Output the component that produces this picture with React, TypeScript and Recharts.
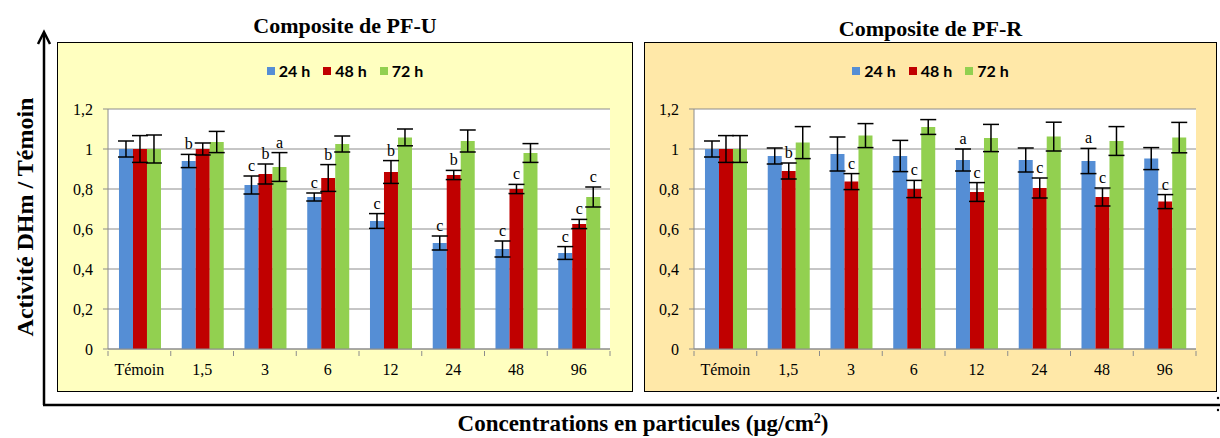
import React from "react";
import { BarChart, Bar, XAxis, YAxis, CartesianGrid, ErrorBar, LabelList } from "recharts";

const categories = ["Témoin", "1,5", "3", "6", "12", "24", "48", "96"];
const yTicks = [0, 0.2, 0.4, 0.6, 0.8, 1, 1.2];
const seriesNames = ["24 h", "48 h", "72 h"];
const seriesColors = ["#558ED5", "#C00000", "#92D050"];

// Composite de PF-U
const puMean24 = [1, 0.94, 0.82, 0.76, 0.64, 0.53, 0.5, 0.48];
const puErr24 = [0.04, 0.033, 0.045, 0.02, 0.037, 0.035, 0.04, 0.032];
const puMean48 = [1, 1.0, 0.875, 0.855, 0.885, 0.87, 0.8, 0.625];
const puErr48 = [0.067, 0.03, 0.05, 0.067, 0.057, 0.023, 0.023, 0.023];
const puMean72 = [1, 1.035, 0.91, 1.025, 1.058, 1.04, 0.98, 0.76];
const puErr72 = [0.07, 0.053, 0.072, 0.04, 0.042, 0.055, 0.047, 0.05];
const puLet24 = ["", "b", "c", "c", "c", "c", "c", "c"];
const puLet48 = ["", "", "b", "b", "b", "b", "c", "c"];
const puLet72 = ["", "", "a", "", "", "", "", "c"];

// Composite de PF-R
const prMean24 = [1, 0.965, 0.975, 0.965, 0.945, 0.945, 0.94, 0.952];
const prErr24 = [0.04, 0.04, 0.085, 0.078, 0.055, 0.06, 0.063, 0.055];
const prMean48 = [1, 0.89, 0.837, 0.8, 0.785, 0.805, 0.76, 0.737];
const prErr48 = [0.067, 0.04, 0.04, 0.043, 0.047, 0.05, 0.045, 0.035];
const prMean72 = [1, 1.032, 1.067, 1.11, 1.055, 1.062, 1.04, 1.057];
const prErr72 = [0.067, 0.08, 0.06, 0.037, 0.068, 0.072, 0.072, 0.076];
const prLet24 = ["", "", "", "", "a", "", "a", ""];
const prLet48 = ["", "b", "c", "c", "c", "c", "c", "c"];
const prLet72 = ["", "", "", "", "", "", "", ""];

const serif = "'Liberation Serif', 'Times New Roman', serif";
const sans = "Lato, 'Liberation Sans', sans-serif";

function letterLabel(means: number[], errs: number[]) {
  return (p: any) => {
    const vb = p.viewBox ?? {};
    const x = p.x ?? vb.x;
    const y = p.y ?? vb.y;
    const w = p.width ?? vb.width;
    const h = p.height ?? vb.height;
    const i = p.index;
    if (!p.value) return null;
    const errPx = (errs[i] * h) / means[i];
    return (
      <text x={x + w / 2} y={y - errPx - 5} textAnchor="middle" fontFamily={serif} fontSize={16} fill="#000">
        {p.value}
      </text>
    );
  };
}

function XTick({ x, y, payload, index, bw }: any) {
  return (
    <g>
      <line x1={x - bw / 2} x2={x - bw / 2} y1={y - 6} y2={y - 1} stroke="#8c8c8c" />
      {index === categories.length - 1 && (
        <line x1={x + bw / 2} x2={x + bw / 2} y1={y - 6} y2={y - 1} stroke="#8c8c8c" />
      )}
      <text x={x} y={y + 18} textAnchor="middle" fontFamily={serif} fontSize={16} fill="#000">
        {payload.value}
      </text>
    </g>
  );
}

function Panel({ left, top, width, height, bg, title, titleY, means, errs, letters, plotLeft, plotRight }: any) {
  const data = categories.map((c, i) => ({
    cat: c,
    m24: means[0][i], e24: errs[0][i], l24: letters[0][i],
    m48: means[1][i], e48: errs[1][i], l48: letters[1][i],
    m72: means[2][i], e72: errs[2][i], l72: letters[2][i],
  }));
  const bw = (plotRight - plotLeft) / categories.length;
  const keys = ["24", "48", "72"];
  return (
    <>
      <div style={{ position: "absolute", left, top, width, height, background: bg, border: "1.5px solid #000", boxSizing: "border-box" }} />
      <div style={{ position: "absolute", left, width, top: titleY, lineHeight: "24px", textAlign: "center", fontFamily: serif, fontWeight: "bold", fontSize: 22 }}>
        {title}
      </div>
      <div style={{ position: "absolute", left, width, top: top + 19, lineHeight: "20px", display: "flex", justifyContent: "center", gap: 13, fontFamily: sans, fontWeight: "bold", fontSize: 16 }}>
        {seriesNames.map((n, i) => (
          <span key={n} style={{ display: "flex", alignItems: "center", gap: 4 }}>
            <span style={{ width: 8, height: 8, background: seriesColors[i], display: "inline-block" }} />
            {n}
          </span>
        ))}
      </div>
      <div style={{ position: "absolute", left, top }}>
        <BarChart width={width} height={height} data={data}
          margin={{ top: 67, right: width - plotRight, left: 0, bottom: 13 }}
          barCategoryGap="17.5%" barGap={0}>
          <CartesianGrid vertical={false} stroke="#8c8c8c" fill="#fff" />
          <XAxis dataKey="cat" height={30} axisLine={{ stroke: "#8c8c8c" }} tickLine={false}
            tick={<XTick bw={bw} />} interval={0} />
          <YAxis domain={[0, 1.2]} ticks={yTicks} width={plotLeft} axisLine={{ stroke: "#8c8c8c" }}
            tickLine={{ stroke: "#8c8c8c" }} tickSize={5} tickMargin={10}
            tick={{ fontFamily: serif, fontSize: 16, fill: "#000" }}
            tickFormatter={(v: number) => String(v).replace(".", ",")} />
          {keys.map((k, si) => (
            <Bar key={k} dataKey={"m" + k} fill={seriesColors[si]} isAnimationActive={false}>
              <ErrorBar dataKey={"e" + k} width={8} stroke="#000" strokeWidth={1.5} direction="y" />
              <LabelList dataKey={"l" + k} content={letterLabel(means[si], errs[si])} />
            </Bar>
          ))}
        </BarChart>
      </div>
    </>
  );
}

export default function App() {
  return (
    <div style={{ position: "fixed", left: 0, top: 0, width: 1220, height: 438, background: "#fff", overflow: "hidden" }}>
      <Panel left={57} top={42} width={576} height={350} bg="#FFFFC0" title="Composite de PF-U" titleY={14}
        means={[puMean24, puMean48, puMean72]} errs={[puErr24, puErr48, puErr72]} letters={[puLet24, puLet48, puLet72]}
        plotLeft={51} plotRight={553} />
      <Panel left={644} top={42} width={573} height={350} bg="#FFE8A8" title="Composite de PF-R" titleY={17}
        means={[prMean24, prMean48, prMean72]} errs={[prErr24, prErr48, prErr72]} letters={[prLet24, prLet48, prLet72]}
        plotLeft={50} plotRight={552} />
      <svg width={1220} height={438} style={{ position: "absolute", left: 0, top: 0, pointerEvents: "none" }}>
        <line x1={44} y1={405} x2={44} y2={33} stroke="#000" strokeWidth={2.5} />
        <polyline points="38,44 44,32 50,44" fill="none" stroke="#000" strokeWidth={2.5} />
        <line x1={43} y1={405} x2={1220} y2={405} stroke="#000" strokeWidth={2.5} />
        <circle cx={1218} cy={398} r={1.2} fill="#000" />
        <circle cx={1218} cy={410} r={1.2} fill="#000" />
        <text transform="translate(33,217) rotate(-90)" textAnchor="middle" fontFamily={serif} fontWeight="bold" fontSize={24}>
          Activité DHm / Témoin
        </text>
        <text x={643} y={431} textAnchor="middle" fontFamily={serif} fontWeight="bold" fontSize={23}>
          Concentrations en particules (µg/cm<tspan dy={-8} fontSize={14}>2</tspan><tspan dy={8}>)</tspan>
        </text>
      </svg>
    </div>
  );
}
